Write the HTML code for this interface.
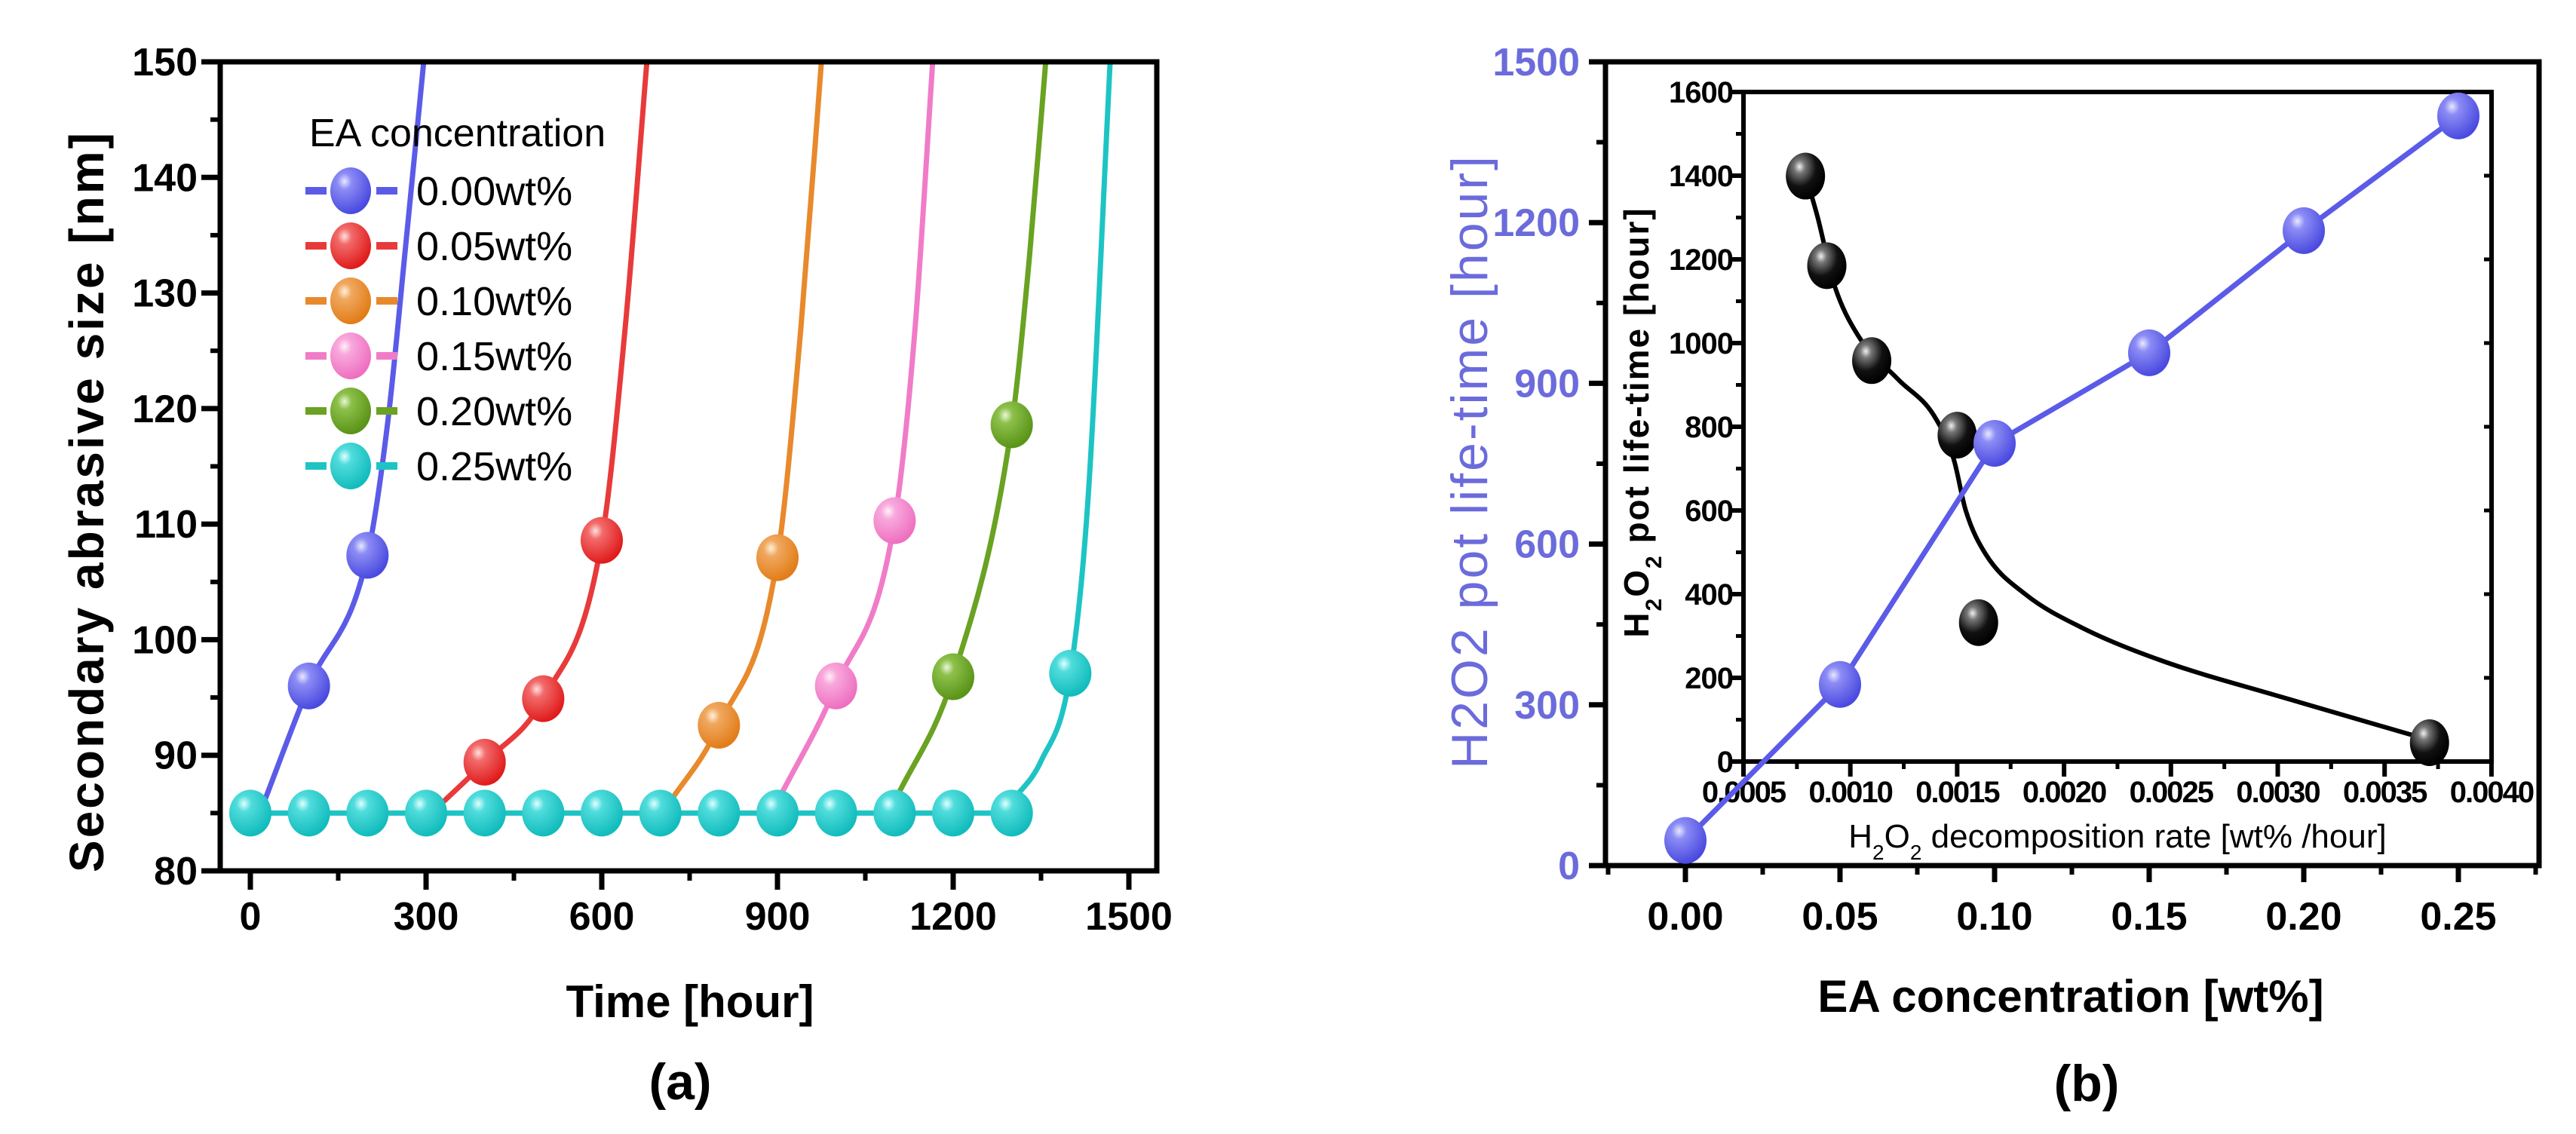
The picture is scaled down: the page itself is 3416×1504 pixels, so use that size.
<!DOCTYPE html>
<html><head><meta charset="utf-8"><style>
html,body{margin:0;padding:0;background:#fff;}
svg{display:block;font-family:"Liberation Sans",sans-serif;}
</style></head><body>
<svg id="fig" width="3416" height="1504" viewBox="0 0 3416 1504" xmlns="http://www.w3.org/2000/svg">
<defs>
<radialGradient id="gBlue" cx="0.35" cy="0.3" r="0.7"><stop offset="0" stop-color="#e8e8ff"/><stop offset="0.25" stop-color="#8c8cf5"/><stop offset="1" stop-color="#4a4ae0"/></radialGradient>
<radialGradient id="gRed" cx="0.35" cy="0.3" r="0.7"><stop offset="0" stop-color="#ffe0e0"/><stop offset="0.25" stop-color="#f26a6a"/><stop offset="1" stop-color="#e01c1c"/></radialGradient>
<radialGradient id="gOrange" cx="0.35" cy="0.3" r="0.7"><stop offset="0" stop-color="#fff0dc"/><stop offset="0.25" stop-color="#f0a860"/><stop offset="1" stop-color="#e27d18"/></radialGradient>
<radialGradient id="gPink" cx="0.35" cy="0.3" r="0.7"><stop offset="0" stop-color="#fff0fa"/><stop offset="0.25" stop-color="#f8a8dc"/><stop offset="1" stop-color="#ee70c0"/></radialGradient>
<radialGradient id="gGreen" cx="0.35" cy="0.3" r="0.7"><stop offset="0" stop-color="#eaf7d8"/><stop offset="0.25" stop-color="#8cc04a"/><stop offset="1" stop-color="#5a9418"/></radialGradient>
<radialGradient id="gCyan" cx="0.35" cy="0.3" r="0.7"><stop offset="0" stop-color="#e0ffff"/><stop offset="0.25" stop-color="#50dcdc"/><stop offset="1" stop-color="#12bcbc"/></radialGradient>
<radialGradient id="gBlack" cx="0.35" cy="0.3" r="0.7"><stop offset="0" stop-color="#f0f0f0"/><stop offset="0.2" stop-color="#777"/><stop offset="0.6" stop-color="#111"/><stop offset="1" stop-color="#000"/></radialGradient>
</defs>
</svg>
<script>
// ---------- Panel (a) data ----------
const aSeriesNames = ["0.00wt%","0.05wt%","0.10wt%","0.15wt%","0.20wt%","0.25wt%"];
const aColors = ["#5b5be8","#e83a3a","#e8892c","#f07cc8","#6aa222","#1ec4c4"];
const aGrads = ["gBlue","gRed","gOrange","gPink","gGreen","gCyan"];
const aPointsT0 = [100,200];
const aPointsV0 = [96,107.3];
const aPointsT1 = [400,500,600];
const aPointsV1 = [89.4,94.9,108.6];
const aPointsT2 = [800,900];
const aPointsV2 = [92.6,107.1];
const aPointsT3 = [1000,1100];
const aPointsV3 = [96,110.3];
const aPointsT4 = [1200,1300];
const aPointsV4 = [96.8,118.6];
const aPointsT5 = [0,100,200,300,400,500,600,700,800,900,1000,1100,1200,1300,1400];
const aPointsV5 = [85,85,85,85,85,85,85,85,85,85,85,85,85,85,97.1];
const aCurveT0 = [20,100,200,235,265,296];
const aCurveV0 = [85.5,96,107.3,119,134,150];
const aCurveT1 = [330,400,500,600,640,677];
const aCurveV1 = [86,89.4,94.9,108.6,127,150];
const aCurveT2 = [710,800,900,940,975];
const aCurveV2 = [85.5,92.6,107.1,127,150];
const aCurveT3 = [900,1000,1100,1135,1165];
const aCurveV3 = [86,96,110.3,127,150];
const aCurveT4 = [1100,1200,1300,1330,1358];
const aCurveV4 = [86,96.8,118.6,133,150];
const aCurveT5 = [1300,1350,1400,1430,1468];
const aCurveV5 = [86,89.5,97.1,112,150];
const aBaseT = [0,1300];
const aBaseV = [85,85];
const aXTicks = [0,300,600,900,1200,1500];
const aYTicks = [80,90,100,110,120,130,140,150];

// ---------- Panel (b) data ----------
const bConc = [0,0.05,0.10,0.15,0.20,0.25];
const bLife = [47,338,788,957,1185,1399];
const bXTicks = [0,0.05,0.10,0.15,0.20,0.25];
const bXTickLabels = ["0.00","0.05","0.10","0.15","0.20","0.25"];
const bYTicks = [0,300,600,900,1200,1500];
const inRate = [0.00079,0.00089,0.00110,0.00150,0.00160,0.00371];
const inLife = [1399,1185,958,780,332,45];
const inCurveX = [0.000792,0.000848,0.000923,0.001035,0.001222,0.001391,0.001484,0.00154,0.001634,0.001821,0.002083,0.002457,0.003019,0.003692];
const inCurveY = [1399,1299,1142,1019,914,827,722,600,495,399,320,241,154,54];
const inXTicks = [0.0005,0.0010,0.0015,0.0020,0.0025,0.0030,0.0035,0.0040];
const inXTickLabels = ["0.0005","0.0010","0.0015","0.0020","0.0025","0.0030","0.0035","0.0040"];
const inYTicks = [0,200,400,600,800,1000,1200,1400,1600];

const NS="http://www.w3.org/2000/svg";
const svg=document.getElementById('fig');
function mk(tag,attrs,parent){const e=document.createElementNS(NS,tag);for(const k in attrs)e.setAttribute(k,attrs[k]);(parent||svg).appendChild(e);return e;}
function txt(s,attrs,parent){const e=mk('text',attrs,parent);e.textContent=s;return e;}
function h2o2(parent,subSize){
  const parts=[['H',0],['2',1],['O',0],['2',1]];
  for(const [s,sub] of parts){const t=mk('tspan',sub?{'font-size':subSize,'baseline-shift':'sub'}:{},parent);t.textContent=s;}
}
function monoPath(xs,ys){
  const n=xs.length;if(n<2)return '';
  const d=[],m=[];
  for(let i=0;i<n-1;i++)d.push((ys[i+1]-ys[i])/(xs[i+1]-xs[i]));
  m[0]=d[0];m[n-1]=d[n-2];
  for(let i=1;i<n-1;i++)m[i]=(d[i-1]*d[i]<=0)?0:(d[i-1]+d[i])/2;
  let p='M'+xs[0]+','+ys[0];
  for(let i=0;i<n-1;i++){const h=(xs[i+1]-xs[i])/3;
    p+=' C'+(xs[i]+h)+','+(ys[i]+m[i]*h)+' '+(xs[i+1]-h)+','+(ys[i+1]-m[i+1]*h)+' '+xs[i+1]+','+ys[i+1];}
  return p;
}

// ===== Panel A =====
const aL=292,aR=1534,aT=82,aB=1155;
const ax=t=>332+t*(233/300);
const ay=v=>aB-(v-80)*((aB-aT)/70);
const gA=mk('g',{});


const clipA=mk('clipPath',{id:'clipA'});mk('rect',{x:aL,y:aT,width:aR-aL,height:aB-aT},clipA);
const curvesT=[aCurveT0,aCurveT1,aCurveT2,aCurveT3,aCurveT4,aCurveT5];
const curvesV=[aCurveV0,aCurveV1,aCurveV2,aCurveV3,aCurveV4,aCurveV5];
const ptsT=[aPointsT0,aPointsT1,aPointsT2,aPointsT3,aPointsT4,aPointsT5];
const ptsV=[aPointsV0,aPointsV1,aPointsV2,aPointsV3,aPointsV4,aPointsV5];
const bl=mk('line',{x1:ax(aBaseT[0]),y1:ay(aBaseV[0]),x2:ax(aBaseT[1]),y2:ay(aBaseV[1]),stroke:aColors[5],'stroke-width':7},gA);


for(let s=0;s<6;s++){
  const c=mk('path',{d:monoPath(curvesT[s].map(ax),curvesV[s].map(ay)),fill:'none',stroke:aColors[s],'stroke-width':7,'clip-path':'url(#clipA)'},gA);
  
  
}
for(let s=0;s<6;s++){
  for(let i=0;i<ptsT[s].length;i++){
    const e=mk('ellipse',{cx:ax(ptsT[s][i]),cy:ay(ptsV[s][i]),rx:28,ry:31,fill:'url(#'+aGrads[s]+')'},gA);
    
    
  }
}
const fa=mk('rect',{x:aL,y:aT,width:aR-aL,height:aB-aT,fill:'none',stroke:'#000','stroke-width':7},gA);


for(const t of aXTicks){
  mk('line',{x1:ax(t),y1:aB,x2:ax(t),y2:aB+25,stroke:'#000','stroke-width':7},gA);
  const l=txt(String(t),{x:ax(t),y:1233,'text-anchor':'middle','font-size':52,'font-weight':'bold'},gA);
  
  
}
for(let i=0;i<aXTicks.length-1;i++){const t=(aXTicks[i]+aXTicks[i+1])/2;mk('line',{x1:ax(t),y1:aB,x2:ax(t),y2:aB+13,stroke:'#000','stroke-width':6},gA);}
for(const v of aYTicks){
  mk('line',{x1:aL-25,y1:ay(v),x2:aL,y2:ay(v),stroke:'#000','stroke-width':7},gA);
  const l=txt(String(v),{x:262,y:ay(v)+18,'text-anchor':'end','font-size':52,'font-weight':'bold'},gA);
  
  
  if(v<150)mk('line',{x1:aL-13,y1:ay(v+5),x2:aL,y2:ay(v+5),stroke:'#000','stroke-width':6},gA);
}
const yta=txt('Secondary abrasive size [nm]',{x:0,y:0,transform:'translate(137,665) rotate(-90)','text-anchor':'middle','font-size':64,'font-weight':'bold','letter-spacing':3},gA);


const xta=txt('Time [hour]',{x:915,y:1349,'text-anchor':'middle','font-size':60,'font-weight':'bold'},gA);


const la=txt('(a)',{x:902,y:1458,'text-anchor':'middle','font-size':68,'font-weight':'bold'},gA);


const lg=mk('g',{},gA);


const lt=txt('EA concentration',{x:410,y:194,'font-size':52},lg);


for(let s=0;s<6;s++){
  const y=253+s*73;
  const le=mk('g',{},lg);
  
  
  mk('line',{x1:405,y1:y,x2:534,y2:y,stroke:aColors[s],'stroke-width':10,'stroke-dasharray':'28 66'},le);
  mk('ellipse',{cx:465,cy:y,rx:27,ry:31,fill:'url(#'+aGrads[s]+')'},le);
  txt(aSeriesNames[s],{x:552,y:y+19,'font-size':54},le);
}

// ===== Panel B =====
const bL=2129,bR=3367,bT=82,bB=1148;
const bx=v=>2235+v*4100;
const by=v=>bB-v*(1066/1500);
const gB=mk('g',{});


const fb=mk('rect',{x:bL,y:bT,width:bR-bL,height:bB-bT,fill:'none',stroke:'#000','stroke-width':7},gB);


for(let i=0;i<bXTicks.length;i++){
  const t=bXTicks[i];
  mk('line',{x1:bx(t),y1:bB,x2:bx(t),y2:bB+22,stroke:'#000','stroke-width':7},gB);
  mk('line',{x1:bx(t+0.025),y1:bB,x2:bx(t+0.025),y2:bB+12,stroke:'#000','stroke-width':6},gB);
  const l=txt(bXTickLabels[i],{x:bx(t),y:1233,'text-anchor':'middle','font-size':52,'font-weight':'bold'},gB);
  
  
}
mk('line',{x1:bx(-0.025),y1:bB,x2:bx(-0.025),y2:bB+12,stroke:'#000','stroke-width':6},gB);
for(const v of bYTicks){
  mk('line',{x1:bL-22,y1:by(v),x2:bL,y2:by(v),stroke:'#000','stroke-width':7},gB);
  if(v<1500)mk('line',{x1:bL-12,y1:by(v+150),x2:bL,y2:by(v+150),stroke:'#000','stroke-width':6},gB);
  const l=txt(String(v),{x:2095,y:by(v)+18,'text-anchor':'end','font-size':52,'font-weight':'bold',fill:'#6b6bdc'},gB);
  
  
}
const ytb=txt('H2O2 pot life-time [hour]',{x:0,y:0,transform:'translate(1972,612) rotate(-90)','text-anchor':'middle','font-size':68,fill:'#6b6bdc','letter-spacing':3},gB);


const xtb=txt('EA concentration [wt%]',{x:2746,y:1342,'text-anchor':'middle','font-size':60,'font-weight':'bold'},gB);


const lb=txt('(b)',{x:2767,y:1460,'text-anchor':'middle','font-size':68,'font-weight':'bold'},gB);



// inset
const iL=2312,iR=3304,iT=122,iB=1010;
const ix=v=>iL+(v-0.0005)/0.0005*141.7;
const iy=v=>iB-v*((iB-iT)/1600);
const gI=mk('g',{},gB);


mk('rect',{x:iL,y:iT,width:iR-iL,height:iB-iT,fill:'#fff',stroke:'#000','stroke-width':6},gI);
for(let i=0;i<inXTicks.length;i++){
  const t=inXTicks[i];
  mk('line',{x1:ix(t),y1:iB,x2:ix(t),y2:iB+20,stroke:'#000','stroke-width':6},gI);
  if(i<inXTicks.length-1)mk('line',{x1:ix(t+0.00025),y1:iB,x2:ix(t+0.00025),y2:iB+10,stroke:'#000','stroke-width':5},gI);
  const l=txt(inXTickLabels[i],{x:ix(t),y:1064,'text-anchor':'middle','font-size':40,'font-weight':'bold','letter-spacing':-2},gI);
  
  
}
for(const v of inYTicks){
  mk('line',{x1:iL-18,y1:iy(v),x2:iL,y2:iy(v),stroke:'#000','stroke-width':6},gI);
  mk('line',{x1:iR-10,y1:iy(v),x2:iR,y2:iy(v),stroke:'#000','stroke-width':5},gI);
  if(v<1600)mk('line',{x1:iL-10,y1:iy(v+100),x2:iL,y2:iy(v+100),stroke:'#000','stroke-width':5},gI);
  const l=txt(String(v),{x:2298,y:iy(v)+14,'text-anchor':'end','font-size':40,'font-weight':'bold','letter-spacing':-1},gI);
  
  
}
const iyt=mk('text',{x:0,y:0,transform:'translate(2186,560) rotate(-90)','text-anchor':'middle','font-size':46,'font-weight':'bold','letter-spacing':2},gI);


h2o2(iyt,30);
const iyt2=mk('tspan',{},iyt);iyt2.textContent=' pot life-time [hour]';
const ixt=mk('text',{x:2808,y:1124,'text-anchor':'middle','font-size':44},gI);


h2o2(ixt,28);
const ixt2=mk('tspan',{},ixt);ixt2.textContent=' decomposition rate [wt% /hour]';
const ic=mk('path',{d:monoPath(inCurveX.map(ix),inCurveY.map(iy)),fill:'none',stroke:'#000','stroke-width':6},gI);


for(let i=0;i<inRate.length;i++){
  const e=mk('ellipse',{cx:ix(inRate[i]),cy:iy(inLife[i]),rx:26,ry:31,fill:'url(#gBlack)'},gI);
  
  
}
const bline=mk('polyline',{points:bConc.map((c,i)=>bx(c)+','+by(bLife[i])).join(' '),fill:'none',stroke:'#5b5be8','stroke-width':7},gB);


for(let i=0;i<bConc.length;i++){
  const e=mk('ellipse',{cx:bx(bConc[i]),cy:by(bLife[i]),rx:28,ry:31,fill:'url(#gBlue)'},gB);
  
  
}
</script>
</body></html>
